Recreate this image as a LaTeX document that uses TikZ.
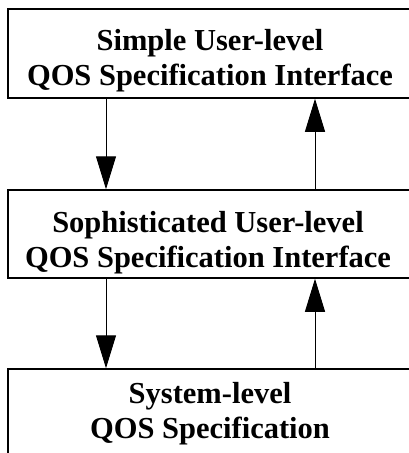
\documentclass[tikz,border=0pt]{standalone}
\usepackage{fontspec}
\setmainfont{Liberation Serif}
\usetikzlibrary{arrows.meta}
\begin{document}
\begin{tikzpicture}[x=1pt,y=1pt,
  layer/.style={draw=black, line width=1.5pt, rectangle, inner sep=0pt,
                minimum width=404pt},
  caption/.style={align=center, inner sep=0pt, anchor=base,
                  font=\fontsize{30.5}{35}\selectfont\bfseries},
  flow/.style={draw=black, line width=1pt,
               -{Triangle[length=33pt, width=20pt]}}]
  \useasboundingbox (0,0) rectangle (409,-453);
  \begin{scope}
    \clip (0,0) rectangle (409,-453);
    % the three layers
    \node[layer, minimum height=89pt] (simple) at (210,-53.5) {};
    \node[layer, minimum height=88pt] (soph) at (210,-234) {};
    \node[layer, minimum height=92pt] (sys) at (210,-415) {};
  \end{scope}
  % captions, placed by the baseline of their last line
  \node[caption] (simpleT) at (210,-85) {Simple User-level\\QOS Specification Interface};
  \node[caption] (sophT) at (208,-267) {Sophisticated User-level\\QOS Specification Interface};
  \node[caption] (sysT) at (210,-438) {System-level\\QOS Specification};
  % columns of the downward and upward connectors
  \coordinate (down) at (106,0);
  \coordinate (up) at (315,0);
  \draw[flow] (simple.south -| down) -- (soph.north -| down);
  \draw[flow] (soph.north -| up) -- (simple.south -| up);
  \draw[flow] (soph.south -| down) -- (sys.north -| down);
  \draw[flow] (sys.north -| up) -- (soph.south -| up);
\end{tikzpicture}
\end{document}
